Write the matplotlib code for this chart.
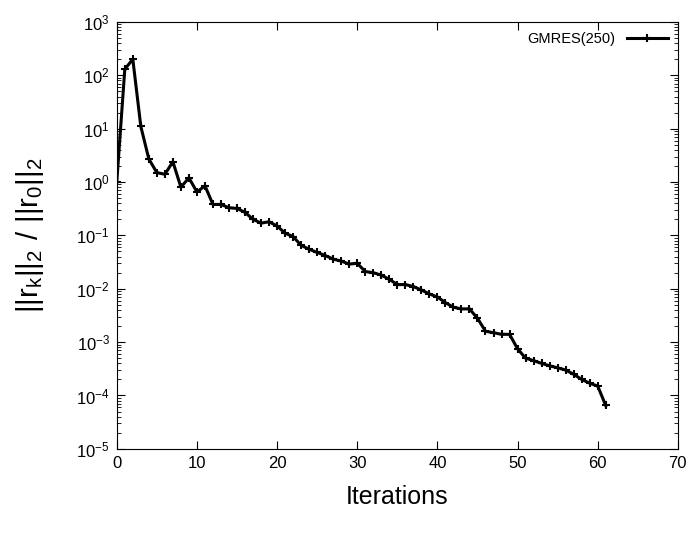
import numpy as np
import matplotlib
matplotlib.use("Agg")
import matplotlib.pyplot as plt

plt.rcParams['font.family'] = ['Liberation Sans', 'DejaVu Sans']
plt.rcParams['mathtext.fontset'] = 'custom'
plt.rcParams['mathtext.rm'] = 'Liberation Sans'

# residual history
iters = list(range(62))
resid = [1.0, 130, 200, 11, 2.7, 1.5, 1.4, 2.4, 0.8, 1.2,
         0.65, 0.85, 0.38, 0.38, 0.33, 0.32, 0.27, 0.2, 0.17, 0.18,
         0.15, 0.11, 0.095, 0.065, 0.055, 0.048, 0.042, 0.036, 0.033, 0.029,
         0.03, 0.021, 0.02, 0.018, 0.015, 0.012, 0.012, 0.011, 0.0095, 0.008,
         0.007, 0.0055, 0.0045, 0.0042, 0.0042, 0.0028, 0.0016, 0.0015, 0.0014, 0.0014,
         0.00075, 0.0005, 0.00045, 0.0004, 0.00036, 0.00033, 0.0003, 0.00025, 0.0002, 0.00017,
         0.00015, 0.000065]
label = "GMRES(250)"

fig = plt.figure(figsize=(6.91, 5.35), dpi=100)
ax = fig.add_axes([0.169, 0.161, 0.812, 0.798])

ax.semilogy(iters, resid, color='black', lw=2.2, marker='+', ms=6, mew=1.5, label=label)

ax.set_xlim(0, 70)
ax.set_ylim(1e-5, 1e3)
ax.set_xticks(range(0, 71, 10))
ax.set_yticks([10.0**k for k in range(-5, 4)])
ax.tick_params(which='both', direction='in', top=True, right=True, labelsize=12)
ax.tick_params(which='major', length=6, pad=5)
ax.tick_params(which='minor', length=3)

ax.set_xlabel("Iterations", fontsize=18, labelpad=10)
ax.set_ylabel(r"$\mathregular{||r_k||_2\ /\ ||r_0||_2}$", fontsize=21, labelpad=22)

leg = ax.legend(loc='upper right', frameon=False, markerfirst=False, fontsize=10.5,
                handlelength=2.8, borderaxespad=0.3)

fig.savefig("out.png", dpi=100)
